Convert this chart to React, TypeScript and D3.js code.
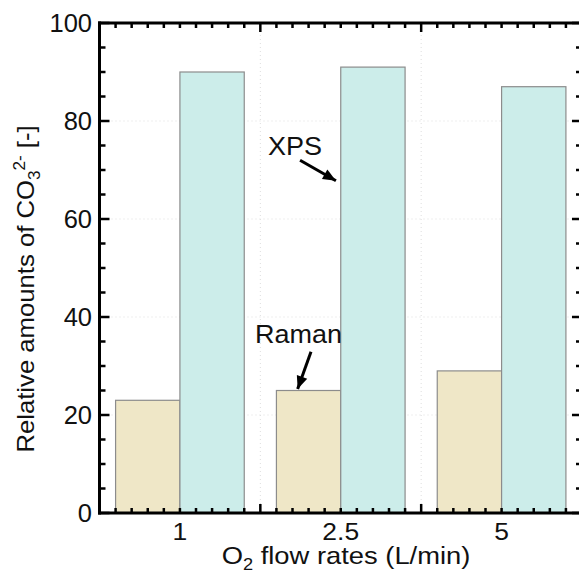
import React from "react";
import * as d3 from "d3";

const categories = ["1", "2.5", "5"];
const seriesNames = ["Raman", "XPS"];
const ramanValues = [23, 25, 29];
const xpsValues = [90, 91, 87];
const yMajorTicks = [0, 20, 40, 60, 80, 100];
const yTitleMain = "Relative amounts of CO";
const xTitleMain = "O";
const xTitleRest = " flow rates (L/min)";

const W = 579;
const H = 576;
const FONT = "'Liberation Sans', Arial, Helvetica, sans-serif";

export default function App() {
  const left = 99.5;
  const right = 582;
  const top = 23;
  const bottom = 513;

  const y = d3.scaleLinear().domain([0, 100]).range([bottom, top]);
  const xc = d3.scaleLinear().domain([0, 3]).range([left, right]);
  const xg = d3.scaleBand<string>().domain(categories).range([left, right]).padding(0);
  const xs = d3
    .scaleBand<string>()
    .domain(seriesNames)
    .range([0, xg.bandwidth()])
    .paddingInner(0)
    .paddingOuter(0.25);

  const fills: Record<string, string> = { Raman: "#efe7c7", XPS: "#ccedea" };
  const values: Record<string, number[]> = { Raman: ramanValues, XPS: xpsValues };

  const yMinor = d3.range(0, 100.001, 5).filter((v) => v % 20 !== 0);
  const xMinor = d3.range(0, 30.001, 1).map((v) => v / 10).filter((v) => Math.abs(v - Math.round(v)) > 1e-6);
  const xMajor = [0, 1, 2, 3];

  const annotations = [
    { text: "XPS", tx: 1.048, ty: 73.1, from: [1.247, 72.0], to: [1.47, 67.8] },
    { text: "Raman", tx: 0.967, ty: 34.7, from: [1.315, 32.9], to: [1.232, 25.3] },
  ];

  const arrowHead = (x1: number, y1: number, x2: number, y2: number) => {
    const ang = Math.atan2(y2 - y1, x2 - x1);
    const len = 13;
    const half = 5.5;
    const bx = x2 - len * Math.cos(ang);
    const by = y2 - len * Math.sin(ang);
    const px = -Math.sin(ang) * half;
    const py = Math.cos(ang) * half;
    return `M${x2},${y2}L${bx + px},${by + py}L${bx - px},${by - py}Z`;
  };

  return (
    <svg
      width={W}
      height={H}
      style={{ position: "absolute", left: 0, top: 0, background: "#fff" }}
      fontFamily={FONT}
    >
      {/* grid */}
      <g stroke="#dedede" strokeWidth={1} strokeDasharray="1,3">
        {yMajorTicks.slice(1, -1).map((v) => (
          <line key={"gy" + v} x1={left} x2={right} y1={y(v)} y2={y(v)} />
        ))}
        {[1, 2].map((v) => (
          <line key={"gx" + v} x1={xc(v)} x2={xc(v)} y1={top} y2={bottom} />
        ))}
      </g>

      {/* bars */}
      {categories.map((c, i) => (
        <g key={c} transform={`translate(${xg(c)},0)`}>
          {seriesNames.map((s) => (
            <rect
              key={s}
              x={xs(s)}
              y={y(values[s][i])}
              width={xs.bandwidth()}
              height={y(0) - y(values[s][i])}
              fill={fills[s]}
              stroke="#8c8c8c"
              strokeWidth={1.2}
            />
          ))}
        </g>
      ))}

      {/* frame */}
      <g stroke="#000" fill="none">
        <line x1={left} x2={left} y1={top - 1.5} y2={bottom + 1.5} strokeWidth={3} />
        <line x1={left - 1.5} x2={right} y1={bottom} y2={bottom} strokeWidth={3} />
        <line x1={left - 1.5} x2={right} y1={top} y2={top} strokeWidth={3} />
        <line x1={right} x2={right} y1={top} y2={bottom} strokeWidth={3} />
      </g>

      {/* y ticks left and right */}
      <g stroke="#000" strokeWidth={2.5}>
        {yMajorTicks.map((v) => (
          <g key={"yt" + v}>
            <line x1={left} x2={left + 10} y1={y(v)} y2={y(v)} />
            <line x1={right} x2={right - 10} y1={y(v)} y2={y(v)} />
          </g>
        ))}
        {yMinor.map((v) => (
          <g key={"ym" + v}>
            <line x1={left} x2={left + 6} y1={y(v)} y2={y(v)} />
            <line x1={right} x2={right - 6} y1={y(v)} y2={y(v)} />
          </g>
        ))}
      </g>

      {/* x ticks bottom and top */}
      <g stroke="#000" strokeWidth={2.5}>
        {xMajor.map((v) => (
          <g key={"xt" + v}>
            <line x1={xc(v)} x2={xc(v)} y1={bottom} y2={bottom - 9} />
            <line x1={xc(v)} x2={xc(v)} y1={top} y2={top + 9} />
          </g>
        ))}
        {xMinor.map((v) => (
          <g key={"xm" + v}>
            <line x1={xc(v)} x2={xc(v)} y1={bottom} y2={bottom - 5} />
            <line x1={xc(v)} x2={xc(v)} y1={top} y2={top + 5} />
          </g>
        ))}
      </g>

      {/* y tick labels */}
      <g fontSize={25.5} textAnchor="end" fill="#111">
        {yMajorTicks.map((v) => (
          <text key={"yl" + v} x={92} y={y(v) + 9}>
            {v}
          </text>
        ))}
      </g>

      {/* x tick labels */}
      <g fontSize={23} textAnchor="middle" fill="#111">
        {categories.map((c) => (
          <text
            key={"xl" + c}
            transform={`translate(${(xg(c) as number) + xg.bandwidth() / 2},540) scale(1.15,1)`}
          >
            {c}
          </text>
        ))}
      </g>

      {/* x title */}
      <text
        transform="translate(346,564) scale(1.14,1)"
        fontSize={24}
        textAnchor="middle"
        fill="#111"
      >
        {xTitleMain}
        <tspan fontSize={16} dy={6}>2</tspan>
        <tspan dy={-6}>{xTitleRest}</tspan>
      </text>

      {/* y title */}
      <text
        transform={`translate(34,289) rotate(-90) scale(1.07,1)`}
        fontSize={24}
        textAnchor="middle"
        fill="#111"
      >
        {yTitleMain}
        <tspan fontSize={16} dy={6}>3</tspan>
        <tspan fontSize={16} dy={-15}>2-</tspan>
        <tspan dy={9}> [-]</tspan>
      </text>

      {/* annotations */}
      {annotations.map((a) => {
        const x1 = xc(a.from[0]);
        const y1 = y(a.from[1]);
        const x2 = xc(a.to[0]);
        const y2 = y(a.to[1]);
        return (
          <g key={a.text}>
            <text
              transform={`translate(${xc(a.tx)},${y(a.ty)}) scale(1.08,1)`}
              fontSize={25}
              fill="#111"
            >
              {a.text}
            </text>
            <line x1={x1} y1={y1} x2={x2} y2={y2} stroke="#000" strokeWidth={3} />
            <path d={arrowHead(x1, y1, x2, y2)} fill="#000" />
          </g>
        );
      })}
    </svg>
  );
}
